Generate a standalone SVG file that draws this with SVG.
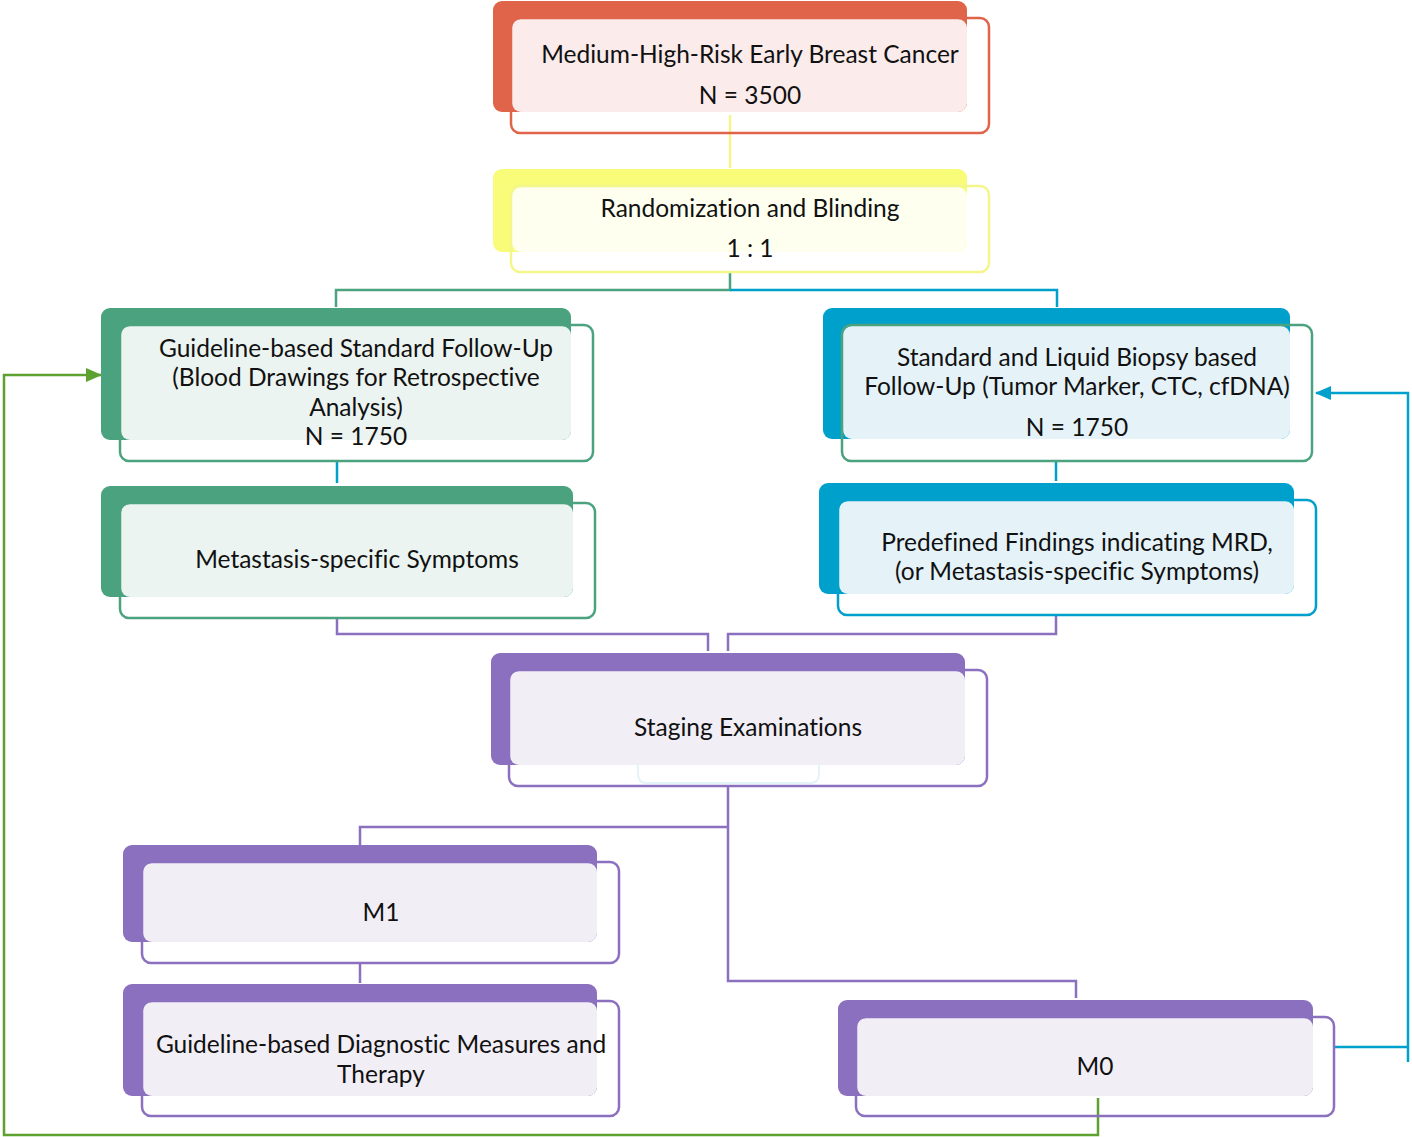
<svg xmlns="http://www.w3.org/2000/svg" width="1412" height="1137" viewBox="0 0 1412 1137">
<style>
text{font-family:Lato,"Liberation Sans",sans-serif;font-size:24.5px;fill:#111;text-anchor:middle;font-variant-ligatures:none}
.o{fill:none;stroke-width:2.5}
.c{fill:none;stroke-width:2.5}
.red .b{fill:#E0644A}.red .f{fill:#FBEBEA}.red .o{stroke:#E0644A}
.yel .b{fill:#F8FC78}.yel .f{fill:#FEFFEF}.yel .o{stroke:#F4F68A}
.grn .b{fill:#4BA27E}.grn .f{fill:#EBF4F0}.grn .o{stroke:#4BA27E}
.blu .b{fill:#00A0CC}.blu .f{fill:#E5F3F9}.blu .o{stroke:#00A0CC}
.pur .b{fill:#8C70C0}.pur .f{fill:#F1EEF6}.pur .o{stroke:#8C70C0}
</style>
<defs>
<marker id="ag" markerWidth="16" markerHeight="14" refX="15" refY="7" orient="auto" markerUnits="userSpaceOnUse"><path d="M0,0 L16,7 L0,14 z" fill="#5DA130"/></marker>
<marker id="ab" markerWidth="16" markerHeight="14" refX="15" refY="7" orient="auto" markerUnits="userSpaceOnUse"><path d="M0,0 L16,7 L0,14 z" fill="#00A0CC"/></marker>
</defs>

<g id="connectors">
<path class="c" d="M730,115 V168" stroke="#F4F68A"/>
<path class="c" d="M730,272 V290 H336 V307" stroke="#4BA27E"/>
<path class="c" d="M730,290 H1057 V307" stroke="#00A0CC"/>
<path class="c" d="M337,461 V483" stroke="#00A0CC"/>
<path class="c" d="M1056,461 V481" stroke="#00A0CC"/>
<path class="c" d="M337,618 V634 H708 V651" stroke="#8C70C0"/>
<path class="c" d="M1056,615 V634 H728 V651" stroke="#8C70C0"/>
<path class="c" d="M728,786 V981 H1076 V998" stroke="#8C70C0"/>
<path class="c" d="M728,827 H360 V845" stroke="#8C70C0"/>
<path class="c" d="M360,963 V983" stroke="#8C70C0"/>
<path class="c" d="M1098,1098 V1135 H4 V375 H101" stroke="#5DA130" marker-end="url(#ag)"/>
<path class="c" d="M1334,1047 H1408 M1408,1062 V393 H1316" stroke="#00A0CC" marker-end="url(#ab)"/>
</g>

<g id="n1" class="red">
<rect class="b" x="493" y="1" width="474" height="111" rx="9"/>
<rect class="f" x="512" y="19" width="455" height="93" rx="9"/>
<rect class="o" x="511" y="18" width="478" height="115" rx="9"/>
<text x="750" y="63">Medium-High-Risk Early Breast Cancer</text>
<text x="750" y="104">N = 3500</text>
</g>

<g id="n2" class="yel">
<rect class="b" x="493" y="169" width="474" height="83" rx="9"/>
<rect class="f" x="512" y="187" width="455" height="65" rx="9"/>
<rect class="o" x="511" y="186" width="478" height="86" rx="9"/>
<text x="750" y="217">Randomization and Blinding</text>
<text x="750" y="257">1 : 1</text>
</g>

<g id="n3" class="grn">
<rect class="b" x="101" y="308" width="470" height="132" rx="9"/>
<rect class="f" x="121" y="326" width="450" height="114" rx="9"/>
<rect class="o" x="120" y="325" width="473" height="136" rx="9"/>
<text x="356" y="357">Guideline-based Standard Follow-Up</text>
<text x="356" y="386">(Blood Drawings for Retrospective</text>
<text x="356" y="416">Analysis)</text>
<text x="356" y="445">N = 1750</text>
</g>

<g id="n4" class="grn">
<rect class="b" x="101" y="486" width="472" height="111" rx="9"/>
<rect class="f" x="121" y="504" width="452" height="93" rx="9"/>
<rect class="o" x="120" y="503" width="475" height="115" rx="9"/>
<text x="357" y="568">Metastasis-specific Symptoms</text>
</g>

<g id="n5" class="blu">
<rect class="b" x="823" y="308" width="467" height="131" rx="9"/>
<rect class="f" x="843" y="326" width="447" height="113" rx="9"/>
<rect class="o" x="842" y="325" width="470" height="136" rx="9" style="stroke:#4BA27E"/>
<text x="1077" y="366">Standard and Liquid Biopsy based</text>
<text x="1077" y="395">Follow-Up (Tumor Marker, CTC, cfDNA)</text>
<text x="1077" y="436">N = 1750</text>
</g>

<g id="n6" class="blu">
<rect class="b" x="819" y="483" width="475" height="111" rx="9"/>
<rect class="f" x="839" y="501" width="455" height="93" rx="9"/>
<rect class="o" x="838" y="500" width="478" height="115" rx="9"/>
<text x="1077" y="551">Predefined Findings indicating MRD,</text>
<text x="1077" y="580">(or Metastasis-specific Symptoms)</text>
</g>

<g id="n7" class="pur">
<rect class="b" x="491" y="653" width="474" height="112" rx="9"/>
<rect class="f" x="510" y="671" width="455" height="94" rx="9"/>
<path d="M638,765 V774 Q638,783 647,783 H810 Q819,783 819,774 V765" fill="none" stroke="#E3F3F9" stroke-width="2"/>
<rect class="o" x="509" y="670" width="478" height="116" rx="9"/>
<text x="748" y="736">Staging Examinations</text>
</g>

<g id="n8" class="pur">
<rect class="b" x="123" y="845" width="474" height="97" rx="9"/>
<rect class="f" x="143" y="863" width="454" height="79" rx="9"/>
<rect class="o" x="142" y="862" width="477" height="101" rx="9"/>
<text x="381" y="921">M1</text>
</g>

<g id="n9" class="pur">
<rect class="b" x="123" y="984" width="474" height="112" rx="9"/>
<rect class="f" x="143" y="1002" width="454" height="94" rx="9"/>
<rect class="o" x="142" y="1001" width="477" height="115" rx="9"/>
<text x="381" y="1053">Guideline-based Diagnostic Measures and</text>
<text x="381" y="1083">Therapy</text>
</g>

<g id="n10" class="pur">
<rect class="b" x="838" y="1000" width="475" height="96" rx="9"/>
<rect class="f" x="857" y="1018" width="456" height="78" rx="9"/>
<rect class="o" x="856" y="1017" width="478" height="99" rx="9"/>
<text x="1095" y="1075">M0</text>
</g>
</svg>
